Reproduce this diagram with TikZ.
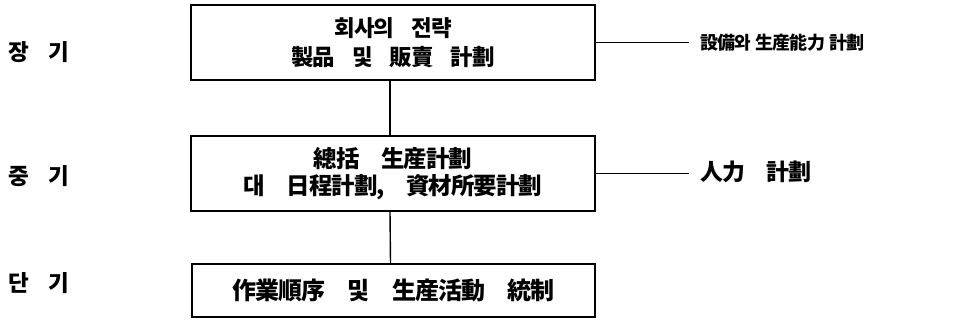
\documentclass[tikz,border=0pt]{standalone}
\usepackage{fontspec}
\setmainfont{Noto Sans CJK KR}[LetterSpace=-4]
\newcommand{\fsz}[1]{\fontsize{#1}{#1}\selectfont\bfseries}
\begin{document}
\begin{tikzpicture}[x=1pt,y=-1pt,
  box/.style={draw, line width=1.4pt, minimum width=404pt, inner sep=0pt, align=center},
  lbl/.style={anchor=west, inner sep=0pt, font=\fsz{22.5}},
  side/.style={anchor=west, inner xsep=11pt, inner ysep=0pt},
  conn/.style={line width=1.4pt}]
\useasboundingbox (0,0) rectangle (964,322);
\node[box, minimum height=75pt, font=\fsz{22.4}] (b1) at (393,42.5) {회사의\hspace{17pt}전략\\[7pt]製品\hspace{17pt}및\hspace{17pt}販賣\hspace{17pt}計劃};
\node[box, minimum height=75pt, font=\fsz{23.4}] (b2) at (393,173.5) {總括　生産計劃\\[3pt]대　日程計劃,　資材所要計劃};
\node[box, minimum width=403pt, minimum height=53pt, font=\fsz{24}] (b3) at (393.5,290.5) {作業順序　및　生産活動　統制};
\node[lbl] (l1) at (8,52) {장\hspace{20pt}기};
\node[lbl] (l2) at (8,176) {중\hspace{20pt}기};
\node[lbl] (l3) at (8,283) {단\hspace{20pt}기};
\node[side, font=\fsz{18}] (r1) at (689,42.5) {設備와\hspace{4pt}生産能力\hspace{4pt}計劃};
\node[side, font=\fsz{22.9}] (r2) at (689,172) {人力　計劃};
\draw[conn] ([xshift=-3pt]b1.south) -- ([xshift=-3pt]b2.north);
\draw[conn] ([xshift=-3pt]b2.south) -- ([xshift=-3pt]b3.north);
\draw[conn] (b1.east) -- (b1.east -| r1.west);
\draw[conn] (b2.east) -- (b2.east -| r2.west);
\end{tikzpicture}
\end{document}
